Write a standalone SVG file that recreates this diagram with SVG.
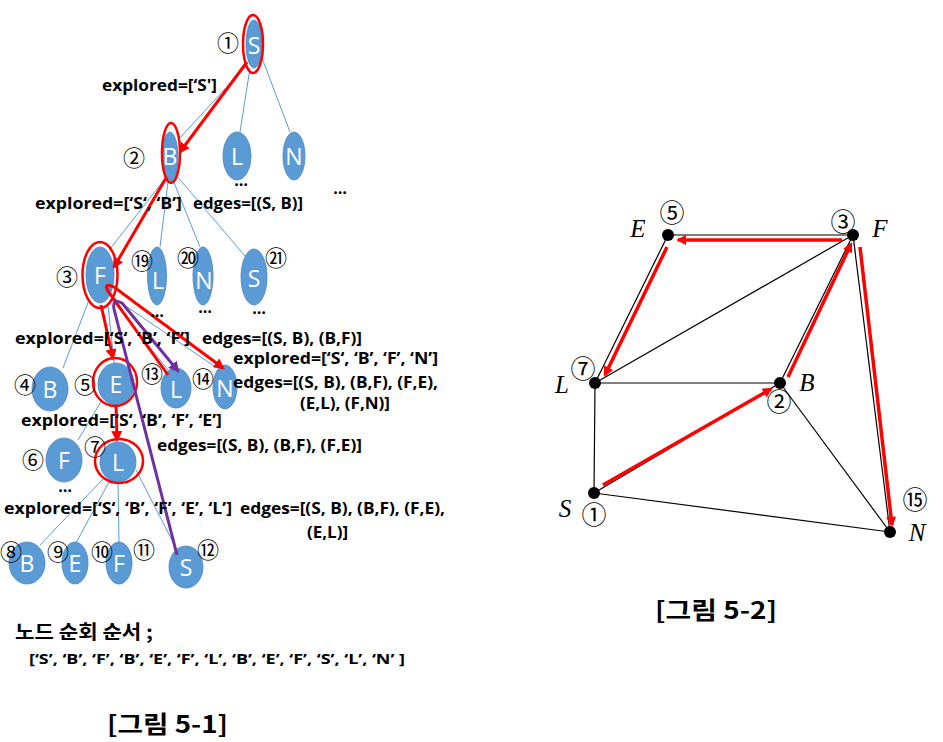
<svg xmlns="http://www.w3.org/2000/svg" width="943" height="742" viewBox="0 0 943 742">
<defs>
<style>
.nd{fill:#5B9BD5;stroke:#4A84BC;stroke-width:0.8}
.ring{fill:none;stroke:#FF0000;stroke-width:2.5}
.lt{font-family:"Open Sans","Noto Sans",sans-serif;font-size:23px;fill:#ffffff;text-anchor:middle;dominant-baseline:central}
.bl{stroke:#5B9BD5;stroke-width:1;fill:none}
.ra{stroke:#FF0000;stroke-width:3;fill:none;marker-end:url(#arR)}
.pa{stroke:#7030A0;stroke-width:3;fill:none;marker-end:url(#arP)}
.lb{font-family:"Open Sans","Noto Sans",sans-serif;font-weight:bold;font-size:16px;fill:#000}
.kr{font-family:"Noto Sans CJK KR",sans-serif;font-weight:bold;fill:#000}
.cn{font-family:"Noto Sans CJK KR",sans-serif;font-size:22px;fill:#000;text-anchor:middle;dominant-baseline:central}
.dots{font-family:"Open Sans",sans-serif;font-weight:bold;font-size:16px;fill:#000;text-anchor:middle}
.ge{stroke:#000;stroke-width:1.2;fill:none}
.gr{stroke:#FF0000;stroke-width:3.5;fill:none;marker-end:url(#arG)}
.gl{font-family:"Liberation Serif",serif;font-style:italic;font-size:25px;fill:#000;text-anchor:middle}
.gn{font-family:"Noto Sans CJK KR",sans-serif;font-size:25px;fill:#000;text-anchor:middle;dominant-baseline:central}
</style>
<marker id="arR" viewBox="0 0 10 10" refX="8" refY="5" markerWidth="11" markerHeight="11" markerUnits="userSpaceOnUse" orient="auto"><path d="M0,0 L10,5 L0,10 z" fill="#FF0000"/></marker>
<marker id="arP" viewBox="0 0 10 10" refX="8" refY="5" markerWidth="11" markerHeight="11" markerUnits="userSpaceOnUse" orient="auto"><path d="M0,0 L10,5 L0,10 z" fill="#7030A0"/></marker>
<marker id="arG" viewBox="0 0 10 10" refX="8" refY="5" markerWidth="12" markerHeight="10" markerUnits="userSpaceOnUse" orient="auto"><path d="M0,0 L10,5 L0,10 z" fill="#FF0000"/></marker>
</defs>
<rect width="943" height="742" fill="#ffffff"/>

<!-- tree connectors -->
<g id="tree-connectors">
<line class="bl" x1="247" y1="65" x2="178" y2="140"/>
<line class="bl" x1="250" y1="68" x2="240" y2="132"/>
<line class="bl" x1="262" y1="58" x2="290" y2="132"/>
<line class="bl" x1="164" y1="180" x2="110" y2="249"/>
<line class="bl" x1="168" y1="182" x2="160" y2="247"/>
<line class="bl" x1="173" y1="180" x2="200" y2="247"/>
<line class="bl" x1="176" y1="175" x2="245" y2="256"/>
<line class="bl" x1="89" y1="300" x2="63" y2="368"/>
<line class="bl" x1="108" y1="305" x2="114" y2="363"/>
<line class="bl" x1="112" y1="300" x2="168" y2="370"/>
<line class="bl" x1="114" y1="298" x2="217" y2="368"/>
<line class="bl" x1="102" y1="400" x2="78" y2="440"/>
<line class="bl" x1="104" y1="478" x2="40" y2="545"/>
<line class="bl" x1="110" y1="480" x2="76" y2="543"/>
<line class="bl" x1="118" y1="482" x2="119" y2="542"/>
<line class="bl" x1="136" y1="470" x2="176" y2="548"/>
</g>

<!-- tree nodes -->
<g id="t-S"><ellipse class="nd" cx="254" cy="44" rx="8" ry="24"/><ellipse class="ring" cx="253" cy="44" rx="10" ry="29"/><text class="lt" x="254" y="45">S</text><text class="cn" x="228" y="41">①</text></g>
<g id="t-B"><ellipse class="nd" cx="170" cy="157" rx="8" ry="25"/><ellipse class="ring" cx="171" cy="153" rx="9" ry="30"/><text class="lt" x="170" y="156">B</text><text class="cn" x="134" y="156">②</text></g>
<g id="t-L"><ellipse class="nd" cx="237" cy="156" rx="14" ry="24"/><text class="lt" x="237" y="156">L</text></g>
<g id="t-N"><ellipse class="nd" cx="294" cy="156" rx="11" ry="24"/><text class="lt" x="294" y="156">N</text></g>
<g id="t-F"><ellipse class="nd" cx="100" cy="275" rx="14" ry="28"/><ellipse class="ring" cx="100" cy="275" rx="17.5" ry="33"/><text class="lt" x="100" y="275">F</text><text class="cn" x="67" y="275">③</text></g>
<g id="t-L19"><ellipse class="nd" cx="157" cy="276" rx="9.5" ry="29"/><text class="lt" x="158" y="280">L</text><text class="cn" x="142" y="259">⑲</text></g>
<g id="t-N20"><ellipse class="nd" cx="203" cy="276" rx="10" ry="29"/><text class="lt" x="204" y="280">N</text><text class="cn" x="188" y="256">⑳</text></g>
<g id="t-S21"><ellipse class="nd" cx="254" cy="277" rx="13" ry="28"/><text class="lt" x="254" y="278">S</text><text class="cn" x="276" y="256">㉑</text></g>
<g id="t-B4"><ellipse class="nd" cx="50" cy="389" rx="18" ry="22"/><text class="lt" x="50" y="389">B</text><text class="cn" x="25" y="383">④</text></g>
<g id="t-E5"><ellipse class="nd" cx="116" cy="384" rx="18" ry="21"/><ellipse class="ring" cx="115" cy="382" rx="22" ry="24"/><text class="lt" x="116" y="384">E</text><text class="cn" x="85" y="383">⑤</text></g>
<g id="t-L13"><ellipse class="nd" cx="176" cy="388" rx="15" ry="20"/><text class="lt" x="176" y="389">L</text><text class="cn" x="152" y="372">⑬</text></g>
<g id="t-N14"><ellipse class="nd" cx="225" cy="387" rx="12" ry="22"/><text class="lt" x="225" y="388">N</text><text class="cn" x="203" y="377">⑭</text></g>
<g id="t-F6"><ellipse class="nd" cx="64" cy="460" rx="18" ry="22"/><text class="lt" x="64" y="460">F</text><text class="cn" x="33" y="458">⑥</text></g>
<g id="t-L7"><ellipse class="nd" cx="118" cy="462" rx="18" ry="20"/><ellipse class="ring" cx="119" cy="461" rx="24" ry="22"/><text class="lt" x="118" y="462">L</text><text class="cn" x="95" y="445">⑦</text></g>
<g id="t-B8"><ellipse class="nd" cx="27" cy="563" rx="18" ry="21"/><text class="lt" x="27" y="563">B</text><text class="cn" x="11" y="550">⑧</text></g>
<g id="t-E9"><ellipse class="nd" cx="75" cy="563" rx="13" ry="21"/><text class="lt" x="75" y="563">E</text><text class="cn" x="58" y="550">⑨</text></g>
<g id="t-F10"><ellipse class="nd" cx="119" cy="563" rx="13" ry="21"/><text class="lt" x="119" y="563">F</text><text class="cn" x="102" y="550">⑩</text></g>
<g id="t-11"><text class="cn" x="144" y="548">⑪</text></g>
<g id="t-S12"><ellipse class="nd" cx="186" cy="567" rx="17" ry="21"/><text class="lt" x="186" y="567">S</text><text class="cn" x="208" y="548">⑫</text></g>

<!-- traversal arrows -->
<g id="traversal-arrows">
<line class="ra" x1="247" y1="62" x2="180" y2="152"/>
<line class="ra" x1="166" y1="178" x2="114" y2="267"/>
<line class="ra" x1="101" y1="305" x2="113" y2="358"/>
<line class="ra" x1="116" y1="405" x2="117" y2="440"/>
<path class="ra" d="M168,375 L108,291 Q103,282 114,287 L223,368"/>
<path class="pa" d="M177,555 L114,309 Q112,298 122,303 L178,371"/>
</g>

<!-- tree labels -->
<g id="tree-labels">
<text class="lb" x="102" y="91" textLength="115" lengthAdjust="spacingAndGlyphs">explored=[‘S']</text>
<text class="lb" x="35" y="209" textLength="147" lengthAdjust="spacingAndGlyphs">explored=[‘S‘, ‘B’]</text>
<text class="lb" x="193" y="209" textLength="110" lengthAdjust="spacingAndGlyphs">edges=[(S, B)]</text>
<text class="dots" x="241" y="186">…</text>
<text class="dots" x="340" y="194">…</text>
<text class="dots" x="157" y="317">…</text>
<text class="dots" x="205" y="313">…</text>
<text class="dots" x="259" y="314">…</text>
<text class="lb" x="15" y="344" textLength="175" lengthAdjust="spacingAndGlyphs">explored=[‘S‘, ‘B’, ‘F’]</text>
<text class="lb" x="202" y="344" textLength="160" lengthAdjust="spacingAndGlyphs">edges=[(S, B), (B,F)]</text>
<text class="lb" x="233" y="364" textLength="205" lengthAdjust="spacingAndGlyphs">explored=[‘S‘, ‘B’, ‘F’, ‘N’]</text>
<text class="lb" x="233" y="388" textLength="205" lengthAdjust="spacingAndGlyphs">edges=[(S, B), (B,F), (F,E),</text>
<text class="lb" x="300" y="409" textLength="90" lengthAdjust="spacingAndGlyphs">(E,L), (F,N)]</text>
<text class="lb" x="21" y="426" textLength="201" lengthAdjust="spacingAndGlyphs">explored=[‘S‘, ‘B’, ‘F’, ‘E’]</text>
<text class="lb" x="157" y="451" textLength="205" lengthAdjust="spacingAndGlyphs">edges=[(S, B), (B,F), (F,E)]</text>
<text class="dots" x="65" y="492">…</text>
<text class="lb" x="4" y="514" textLength="228" lengthAdjust="spacingAndGlyphs">explored=[‘S‘, ‘B’, ‘F’, ‘E’, ‘L’]</text>
<text class="lb" x="240" y="514" textLength="205" lengthAdjust="spacingAndGlyphs">edges=[(S, B), (B,F), (F,E),</text>
<text class="lb" x="307" y="538" textLength="41" lengthAdjust="spacingAndGlyphs">(E,L)]</text>
<text class="kr" x="15" y="639" font-size="19" textLength="138" lengthAdjust="spacingAndGlyphs">노드 순회 순서 ;</text>
<text class="lb" x="29" y="664" style="font-size:15px" textLength="376" lengthAdjust="spacingAndGlyphs">[‘S’, ‘B’, ‘F’, ‘B’, ‘E’, ‘F’, ‘L’,  ‘B’, ‘E’, ‘F’, ‘S’, ‘L’, ‘N’ ]</text>
<text class="kr" x="107" y="733" font-size="24" textLength="121" lengthAdjust="spacingAndGlyphs">[그림 5-1]</text>
</g>

<!-- graph edges -->
<g id="graph-connectors">
<line class="ge" x1="668" y1="235" x2="853" y2="235"/>
<line class="ge" x1="668" y1="235" x2="595" y2="383"/>
<line class="ge" x1="595" y1="383" x2="853" y2="235"/>
<line class="ge" x1="595" y1="383" x2="780" y2="383"/>
<line class="ge" x1="595" y1="383" x2="594" y2="493"/>
<line class="ge" x1="594" y1="493" x2="780" y2="383"/>
<line class="ge" x1="594" y1="493" x2="890" y2="532"/>
<line class="ge" x1="780" y1="383" x2="853" y2="235"/>
<line class="ge" x1="780" y1="383" x2="890" y2="532"/>
<line class="ge" x1="853" y1="235" x2="890" y2="532"/>
<line class="gr" x1="842" y1="240" x2="678" y2="240"/>
<line class="gr" x1="667" y1="247" x2="605" y2="375"/>
<line class="gr" x1="788" y1="377" x2="851" y2="244"/>
<line class="gr" x1="603" y1="485" x2="771" y2="389"/>
<line class="gr" x1="860" y1="247" x2="892" y2="525"/>
</g>

<!-- graph nodes -->
<g id="g-E"><circle cx="668" cy="235" r="6"/><text class="gl" x="638" y="237">E</text><text class="gn" x="672" y="211">⑤</text></g>
<g id="g-F"><circle cx="853" cy="235" r="6"/><text class="gl" x="880" y="237">F</text><text class="gn" x="843" y="220">③</text></g>
<g id="g-L"><circle cx="595" cy="383" r="6"/><text class="gl" x="562" y="393">L</text><text class="gn" x="583" y="367">⑦</text></g>
<g id="g-B"><circle cx="780" cy="383" r="6"/><text class="gl" x="807" y="391">B</text><text class="gn" x="779" y="400">②</text></g>
<g id="g-S"><circle cx="594" cy="493" r="6"/><text class="gl" x="565" y="517">S</text><text class="gn" x="594" y="513">①</text></g>
<g id="g-N"><circle cx="890" cy="532" r="6"/><text class="gl" x="917" y="541">N</text><text class="gn" x="915" y="498">⑮</text></g>

<text class="kr" x="655" y="619" font-size="24" textLength="122" lengthAdjust="spacingAndGlyphs">[그림 5-2]</text>
</svg>
